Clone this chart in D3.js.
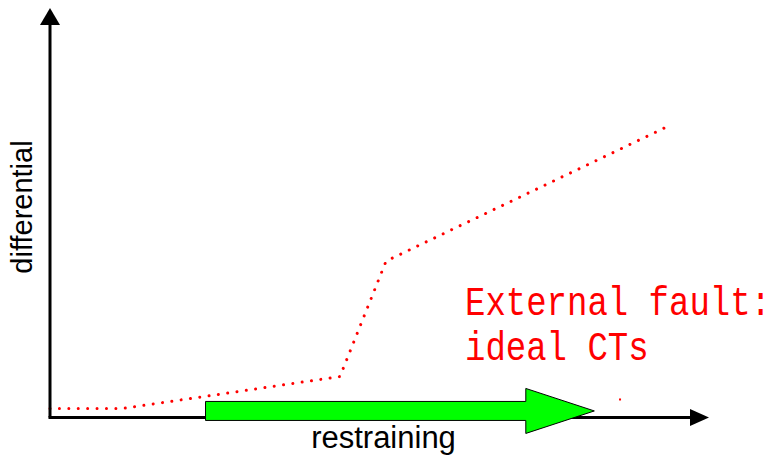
<!DOCTYPE html>
<html><head><meta charset="utf-8">
<script src="https://cdn.jsdelivr.net/npm/d3@7"></script>
<style>html,body{margin:0;padding:0;background:#fff;}svg{display:block;}</style>
</head><body>
<svg id="chart" width="784" height="455"></svg>
<script>
// Data (abstract units, 0..100 on each axis)
const restraining = [0, 11, 44, 51, 94.4];
const differential = [2.2, 2.2, 10, 38.2, 71.6];
const xAxisLabel = "restraining";
const yAxisLabel = "differential";
const noteLines = ["External fault:", "ideal CTs"];
// green arrow annotation (restraining units)
const arrowStart = 23.6, arrowHeadBase = 72.2, arrowTip = 82.6, arrowLevel = 1.6;
const strayDot = [86.5, 4.4];

const svg = d3.select("#chart");
const x = d3.scaleLinear().domain([0, 100]).range([50, 709]);
const y = d3.scaleLinear().domain([0, 100]).range([417.5, 8]);

// red dotted curve
const pts = restraining.map((r, i) => [r, differential[i]]);
svg.append("path")
  .attr("d", d3.line().x(d => x(d[0])).y(d => y(d[1]))(pts))
  .attr("fill", "none").attr("stroke", "#ff0000").attr("stroke-width", 3)
  .attr("stroke-linecap", "round").attr("stroke-dasharray", "0.01 9.4");

// stray dot
svg.append("rect").attr("x", x(strayDot[0]) - 1).attr("y", y(strayDot[1]) - 1)
  .attr("width", 2).attr("height", 2).attr("fill", "#ff0000");

// axes
svg.append("line").attr("x1", x(0)).attr("y1", y(0)).attr("x2", x(0)).attr("y2", 22)
  .attr("stroke", "#000").attr("stroke-width", 3);
svg.append("path").attr("d", `M${x(0)},8 L${x(0)-10},25 L${x(0)+10},25 Z`).attr("fill", "#000");
svg.append("line").attr("x1", x(0) - 1.5).attr("y1", y(0)).attr("x2", 694).attr("y2", y(0))
  .attr("stroke", "#000").attr("stroke-width", 3);
svg.append("path").attr("d", `M709,${y(0)} L690,${y(0)-8.5} L690,${y(0)+8.5} Z`).attr("fill", "#000");

// green arrow
const cy = y(arrowLevel), bh = 9.5, hh = 22.5;
svg.append("path")
  .attr("d", `M${x(arrowStart)},${cy-bh} L${x(arrowHeadBase)},${cy-bh} L${x(arrowHeadBase)},${cy-hh} L${x(arrowTip)},${cy} L${x(arrowHeadBase)},${cy+hh} L${x(arrowHeadBase)},${cy+bh} L${x(arrowStart)},${cy+bh} Z`)
  .attr("fill", "#00ff00").attr("stroke", "#000").attr("stroke-width", 1);

// axis labels
svg.append("text").attr("x", 383.5).attr("y", 448).attr("text-anchor", "middle")
  .attr("font-family", "Liberation Sans, Arial, sans-serif").attr("font-size", 31)
  .attr("fill", "#000").text(xAxisLabel);
svg.append("text").attr("transform", "translate(32,207) rotate(-90)").attr("text-anchor", "middle")
  .attr("font-family", "Liberation Sans, Arial, sans-serif").attr("font-size", 29)
  .attr("fill", "#000").text(yAxisLabel);

// note
noteLines.forEach((t, i) => {
  svg.append("text").attr("transform", `translate(465,${315 + i * 45}) scale(1,1.2)`)
    .attr("font-family", "Liberation Mono, monospace").attr("font-size", 34)
    .attr("fill", "#ff0000").text(t);
});
</script>
</body></html>
